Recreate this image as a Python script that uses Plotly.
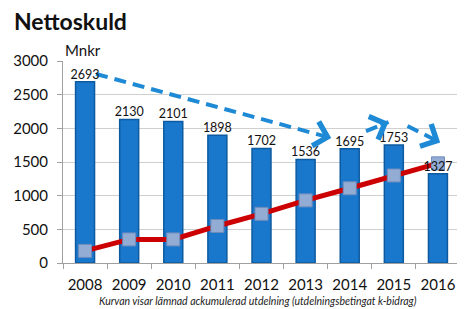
import math
import plotly.graph_objects as go

years = [2008, 2009, 2010, 2011, 2012, 2013, 2014, 2015, 2016]
nettoskuld = [2693, 2130, 2101, 1898, 1702, 1536, 1695, 1753, 1327]
utdelning = [180, 350, 350, 550, 730, 930, 1110, 1300, 1480]
y_ticks = [0, 500, 1000, 1500, 2000, 2500, 3000]

# dashed trend arrows
trend1_x = [2008.25, 2013.58]
trend1_y = [2807, 1856]
trend2_x = [2014.37, 2014.88]
trend2_y = [1960, 2094]
trend3_x = [2015.31, 2016.05]
trend3_y = [2034, 1790]

FONT = "Lato"
BLUE = "#1a78cc"
DASH_BLUE = "#1e8ad6"

# page has an 8px body margin, so the figure is 8px smaller on each axis
W, H = 457, 301
ML, MR, MT, MB = 55, 5, 53, 46
XR = [2007.5, 2016.5]
YR = [0, 3000]
px_per_x = (W - ML - MR) / (XR[1] - XR[0])
px_per_y = (H - MT - MB) / (YR[1] - YR[0])

fig = go.Figure()

fig.add_trace(go.Bar(
    x=years, y=nettoskuld, width=0.43,
    marker=dict(color=BLUE, line=dict(color="#0d5aa0", width=1.5)),
    hoverinfo="skip",
))

fig.add_trace(go.Scatter(
    x=years, y=utdelning, mode="lines+markers",
    line=dict(color="#cc0000", width=5),
    marker=dict(symbol="square", size=13, color="#93acd4",
                line=dict(color="#6f8cbc", width=1)),
))

for tx, ty in [(trend1_x, trend1_y), (trend2_x, trend2_y), (trend3_x, trend3_y)]:
    fig.add_trace(go.Scatter(
        x=tx, y=ty, mode="lines",
        line=dict(color=DASH_BLUE, width=4, dash="12px,7px"),
    ))
    dxp = (tx[-1] - tx[-2]) * px_per_x
    dyp = -(ty[-1] - ty[-2]) * px_per_y
    L = math.hypot(dxp, dyp)
    k = 10 / L
    fig.add_annotation(
        x=tx[-1], y=ty[-1], ax=-dxp * k, ay=-dyp * k,
        xref="x", yref="y",
        showarrow=True, arrowhead=4, arrowsize=1.6, arrowwidth=3,
        arrowcolor=DASH_BLUE, text="", standoff=0,
    )

fig.add_trace(go.Scatter(
    x=years, y=nettoskuld, mode="text",
    text=[str(v) for v in nettoskuld], textposition="top center",
    textfont=dict(family=FONT, size=12.5, color="#111111"),
))

fig.add_annotation(
    x=0, xref="paper", xanchor="left", y=1, yref="paper", yanchor="bottom",
    text="Mnkr", showarrow=False,
    font=dict(family=FONT, size=15, color="#111111"),
)

fig.add_annotation(
    x=0.49, xref="paper", y=-0.19, yref="paper", yanchor="middle",
    text="<i>Kurvan visar lämnad ackumulerad utdelning (utdelningsbetingat k-bidrag)</i>",
    showarrow=False, font=dict(family=FONT, size=10.5, color="#222222"),
)

fig.update_layout(
    width=W, height=H,
    margin=dict(l=ML, r=MR, t=MT, b=MB),
    paper_bgcolor="white", plot_bgcolor="white",
    showlegend=False,
    title=dict(text="<b>Nettoskuld</b>", x=0.013, xanchor="left",
               y=0.955, yanchor="middle",
               font=dict(family=FONT, size=23, color="#111111")),
    xaxis=dict(
        range=XR, tickvals=years, ticktext=[str(y) for y in years],
        ticks="", showgrid=False, zeroline=False, automargin=False,
        showline=True, linecolor="#a0a0a0", linewidth=1,
        tickfont=dict(family=FONT, size=15, color="#111111"),
        ticklabelstandoff=8,
        minor=dict(tickvals=[y + 0.5 for y in years[:-1]] + [2007.5],
                   ticks="outside", ticklen=5, tickcolor="#a0a0a0", showgrid=False),
    ),
    yaxis=dict(
        range=YR, tickvals=y_ticks, showgrid=True, gridcolor="#cfcfcf",
        gridwidth=1, zeroline=False, showline=True, linecolor="#a0a0a0",
        ticks="outside", ticklen=5, tickcolor="#a0a0a0", automargin=False,
        tickfont=dict(family=FONT, size=15, color="#111111"),
        ticklabelstandoff=6,
    ),
)

fig.write_html("out.html")
